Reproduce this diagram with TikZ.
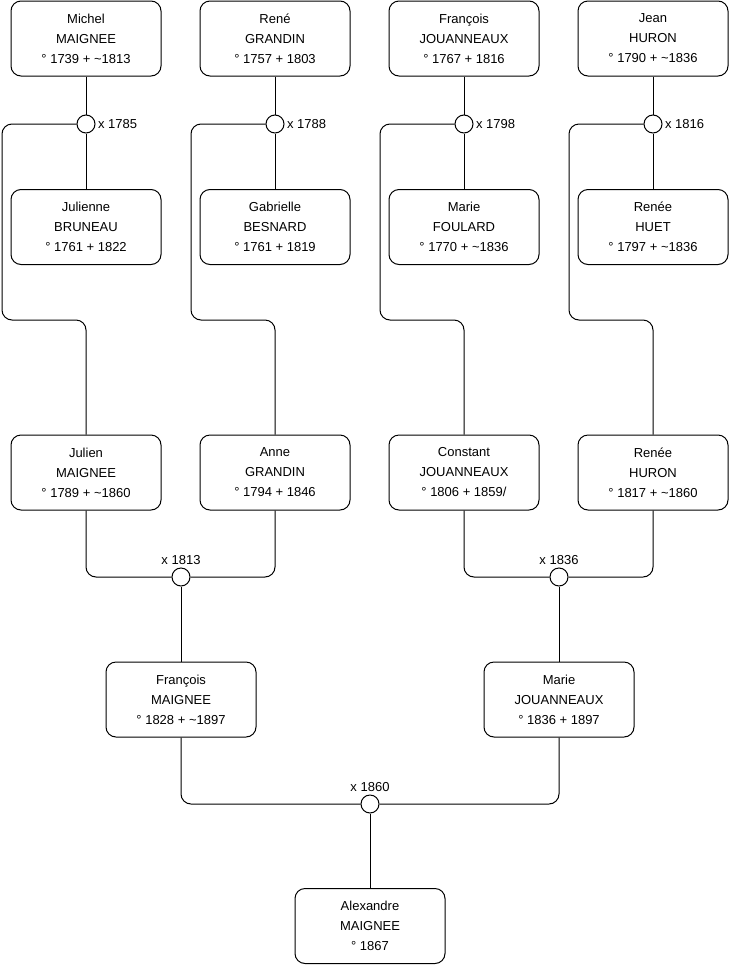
\documentclass[tikz,border=0pt]{standalone}
\usepackage{fontspec}
\setmainfont{Liberation Sans}
\begin{document}
\begin{tikzpicture}[x=1pt,y=-1pt,line width=1pt,
    person/.style={rectangle,draw,rounded corners=10pt,minimum width=150pt,
      minimum height=75pt,align=center,font=\fontsize{13}{20}\selectfont},
    wed/.style={circle,draw,fill=white,inner sep=0pt,minimum size=18pt},
    year/.style={font=\fontsize{13}{16}\selectfont,inner sep=2pt},
    link/.style={rounded corners=10pt}]
            \useasboundingbox (0,0) rectangle (740,975);
            % great-grandparents
            \draw (86,38.5) node[person] (michel) {Michel\\MAIGNEE\\° 1739 + \textasciitilde1813};
            \draw (275,38.5) node[person] (rene) {René\\GRANDIN\\° 1757 + 1803};
            \draw (464,38.5) node[person] (francoisj) {François\\JOUANNEAUX\\° 1767 + 1816};
            \draw (653,38.5) node[person] (jean) {Jean\\HURON\\° 1790 + \textasciitilde1836};
            \draw (86,227) node[person] (julienne) {Julienne\\BRUNEAU\\° 1761 + 1822};
            \draw (275,227) node[person] (gabrielle) {Gabrielle\\BESNARD\\° 1761 + 1819};
            \draw (464,227) node[person] (mariej) {Marie\\FOULARD\\° 1770 + \textasciitilde1836};
            \draw (653,227) node[person] (reneeh) {Renée\\HUET\\° 1797 + \textasciitilde1836};
            \draw (86,124) node[wed] (w1785) {};
            \draw (275,124) node[wed] (w1788) {};
            \draw (464,124) node[wed] (w1798) {};
            \draw (653,124) node[wed] (w1816) {};
            \node[year,right] (l1785) at (w1785.east) {x 1785};
            \node[year,right] (l1788) at (w1788.east) {x 1788};
            \node[year,right] (l1798) at (w1798.east) {x 1798};
            \node[year,right] (l1816) at (w1816.east) {x 1816};
            % grandparents
            \draw (86,472.5) node[person] (julien) {Julien\\MAIGNEE\\° 1789 + \textasciitilde1860};
            \draw (275,472.5) node[person] (anne) {Anne\\GRANDIN\\° 1794 + 1846};
            \draw (464,472.5) node[person] (constant) {Constant\\JOUANNEAUX\\° 1806 + 1859/};
            \draw (653,472.5) node[person] (renee) {Renée\\HURON\\° 1817 + \textasciitilde1860};
            \draw (181,577) node[wed] (w1813) {};
            \draw (559,577) node[wed] (w1836) {};
            \node[year,above] (l1813) at (w1813.north) {x 1813};
            \node[year,above] (l1836) at (w1836.north) {x 1836};
            % parents
            \draw (181,699.5) node[person] (francois) {François\\MAIGNEE\\° 1828 + \textasciitilde1897};
            \draw (559,699.5) node[person] (marie) {Marie\\JOUANNEAUX\\° 1836 + 1897};
            \draw (370,804) node[wed] (w1860) {};
            \node[year,above] (l1860) at (w1860.north) {x 1860};
            \draw (370,926) node[person] (alexandre) {Alexandre\\MAIGNEE\\° 1867};

            \draw (michel)--(w1785) (w1785)--(julienne);
            \draw (rene)--(w1788) (w1788)--(gabrielle);
            \draw (francoisj)--(w1798) (w1798)--(mariej);
            \draw (jean)--(w1816) (w1816)--(reneeh);
            \draw[link] (w1785.west) -| (2,320) -| (julien.north);
            \draw[link] (w1788.west) -| (191,320) -| (anne.north);
            \draw[link] (w1798.west) -| (380,320) -| (constant.north);
            \draw[link] (w1816.west) -| (569,320) -| (renee.north);

            \draw[link] (julien.south) |- (w1813.west);
            \draw[link] (anne.south) |- (w1813.east);
            \draw[link] (constant.south) |- (w1836.west);
            \draw[link] (renee.south) |- (w1836.east);
            \draw (w1813)--(francois);
            \draw (w1836)--(marie);

            \draw[link] (francois.south) |- (w1860.west);
            \draw[link] (marie.south) |- (w1860.east);
            \draw (w1860)--(alexandre);
\end{tikzpicture}
\end{document}
